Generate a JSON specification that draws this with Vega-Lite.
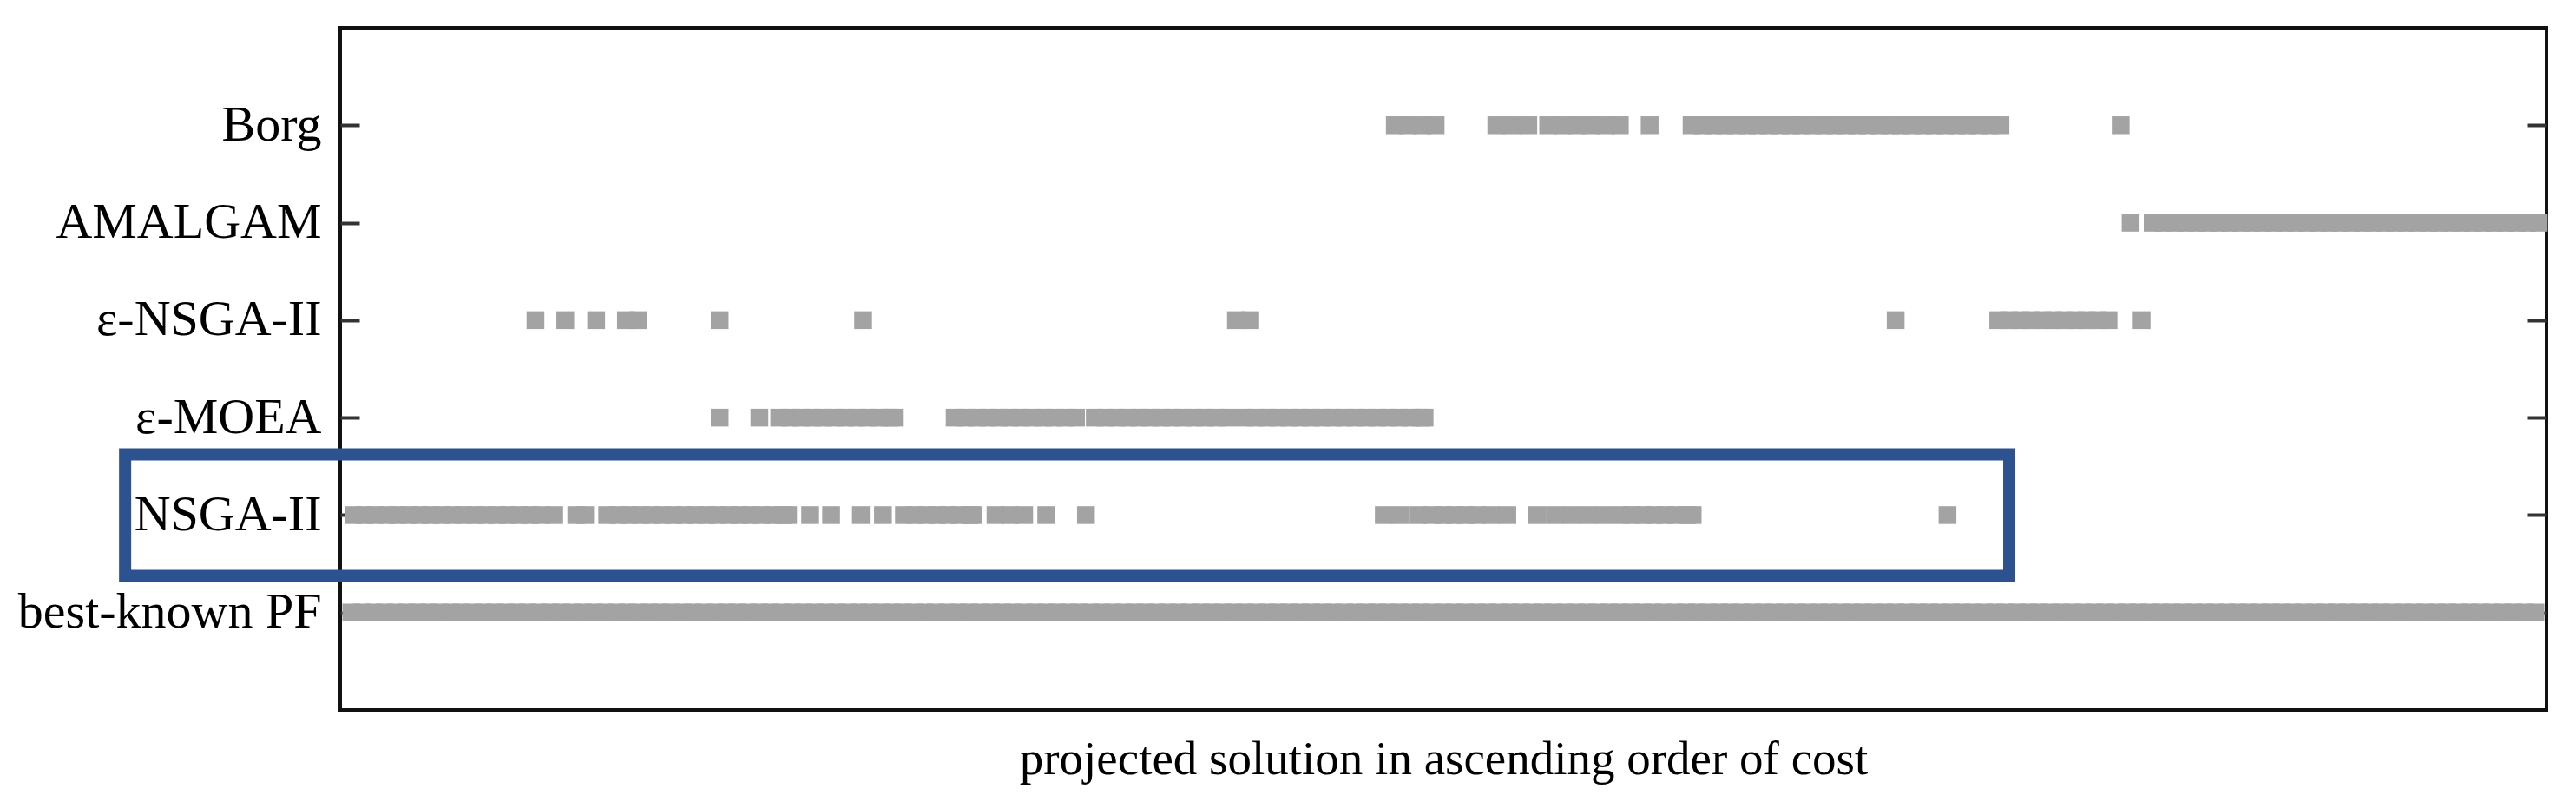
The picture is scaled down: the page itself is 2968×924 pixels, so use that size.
{
  "$schema": "https://vega.github.io/schema/vega-lite/v6.json",
  "width": 2542,
  "height": 786,
  "autosize": {"type": "none"},
  "padding": {"left": 392, "top": 32, "right": 34, "bottom": 106},
  "background": "white",
  "config": {"view": {"stroke": "#111111", "strokeWidth": 4}},
  "datasets": {
    "highlight": [{"alg": "NSGA-II", "from": -19.5, "to": 151.3}],
    "solutions": [
      {"alg":"Borg","pos":95.6},{"alg":"Borg","pos":96.8},{"alg":"Borg","pos":98.1},{"alg":"Borg","pos":99.3},
      {"alg":"Borg","pos":104.8},{"alg":"Borg","pos":106.2},{"alg":"Borg","pos":107.7},
      {"alg":"Borg","pos":109.5},{"alg":"Borg","pos":110.8},{"alg":"Borg","pos":112.1},{"alg":"Borg","pos":113.4},{"alg":"Borg","pos":114.7},{"alg":"Borg","pos":116.0},
      {"alg":"Borg","pos":118.7},
      {"alg":"Borg","pos":122.5},{"alg":"Borg","pos":123.5},{"alg":"Borg","pos":124.5},{"alg":"Borg","pos":125.5},{"alg":"Borg","pos":126.5},{"alg":"Borg","pos":127.5},{"alg":"Borg","pos":128.5},{"alg":"Borg","pos":129.5},{"alg":"Borg","pos":130.5},{"alg":"Borg","pos":131.5},{"alg":"Borg","pos":132.5},{"alg":"Borg","pos":133.5},{"alg":"Borg","pos":134.5},{"alg":"Borg","pos":135.5},{"alg":"Borg","pos":136.5},{"alg":"Borg","pos":137.5},{"alg":"Borg","pos":138.5},{"alg":"Borg","pos":139.5},{"alg":"Borg","pos":140.5},{"alg":"Borg","pos":141.5},{"alg":"Borg","pos":142.5},{"alg":"Borg","pos":143.5},{"alg":"Borg","pos":144.5},{"alg":"Borg","pos":145.5},{"alg":"Borg","pos":146.5},{"alg":"Borg","pos":147.5},{"alg":"Borg","pos":148.5},{"alg":"Borg","pos":149.5},{"alg":"Borg","pos":150.5},
      {"alg":"Borg","pos":161.4},

      {"alg":"AMALGAM","pos":162.3},
      {"alg":"AMALGAM","pos":164.3},{"alg":"AMALGAM","pos":165.3},{"alg":"AMALGAM","pos":166.3},{"alg":"AMALGAM","pos":167.3},{"alg":"AMALGAM","pos":168.3},{"alg":"AMALGAM","pos":169.3},{"alg":"AMALGAM","pos":170.3},{"alg":"AMALGAM","pos":171.3},{"alg":"AMALGAM","pos":172.3},{"alg":"AMALGAM","pos":173.3},{"alg":"AMALGAM","pos":174.3},{"alg":"AMALGAM","pos":175.3},{"alg":"AMALGAM","pos":176.3},{"alg":"AMALGAM","pos":177.3},{"alg":"AMALGAM","pos":178.3},{"alg":"AMALGAM","pos":179.3},{"alg":"AMALGAM","pos":180.3},{"alg":"AMALGAM","pos":181.3},{"alg":"AMALGAM","pos":182.3},{"alg":"AMALGAM","pos":183.3},{"alg":"AMALGAM","pos":184.3},{"alg":"AMALGAM","pos":185.3},{"alg":"AMALGAM","pos":186.3},{"alg":"AMALGAM","pos":187.3},{"alg":"AMALGAM","pos":188.3},{"alg":"AMALGAM","pos":189.3},{"alg":"AMALGAM","pos":190.3},{"alg":"AMALGAM","pos":191.3},{"alg":"AMALGAM","pos":192.3},{"alg":"AMALGAM","pos":193.3},{"alg":"AMALGAM","pos":194.3},{"alg":"AMALGAM","pos":195.3},{"alg":"AMALGAM","pos":196.3},{"alg":"AMALGAM","pos":197.3},{"alg":"AMALGAM","pos":198.3},{"alg":"AMALGAM","pos":199.3},

      {"alg":"ε-NSGA-II","pos":17.7},{"alg":"ε-NSGA-II","pos":20.4},{"alg":"ε-NSGA-II","pos":23.2},{"alg":"ε-NSGA-II","pos":25.9},{"alg":"ε-NSGA-II","pos":27.0},
      {"alg":"ε-NSGA-II","pos":34.4},{"alg":"ε-NSGA-II","pos":47.4},{"alg":"ε-NSGA-II","pos":81.2},{"alg":"ε-NSGA-II","pos":82.5},{"alg":"ε-NSGA-II","pos":141.0},
      {"alg":"ε-NSGA-II","pos":150.3},{"alg":"ε-NSGA-II","pos":151.3},{"alg":"ε-NSGA-II","pos":152.3},{"alg":"ε-NSGA-II","pos":153.3},{"alg":"ε-NSGA-II","pos":154.3},{"alg":"ε-NSGA-II","pos":155.3},{"alg":"ε-NSGA-II","pos":156.3},{"alg":"ε-NSGA-II","pos":157.3},{"alg":"ε-NSGA-II","pos":158.3},{"alg":"ε-NSGA-II","pos":159.3},{"alg":"ε-NSGA-II","pos":160.3},
      {"alg":"ε-NSGA-II","pos":163.3},

      {"alg":"ε-MOEA","pos":34.4},{"alg":"ε-MOEA","pos":38.0},
      {"alg":"ε-MOEA","pos":39.8},{"alg":"ε-MOEA","pos":40.8},{"alg":"ε-MOEA","pos":41.8},{"alg":"ε-MOEA","pos":42.8},{"alg":"ε-MOEA","pos":43.8},{"alg":"ε-MOEA","pos":44.8},{"alg":"ε-MOEA","pos":45.8},{"alg":"ε-MOEA","pos":46.8},{"alg":"ε-MOEA","pos":47.8},{"alg":"ε-MOEA","pos":48.8},{"alg":"ε-MOEA","pos":49.8},{"alg":"ε-MOEA","pos":50.2},
      {"alg":"ε-MOEA","pos":55.7},{"alg":"ε-MOEA","pos":56.7},{"alg":"ε-MOEA","pos":57.7},{"alg":"ε-MOEA","pos":58.7},{"alg":"ε-MOEA","pos":59.7},{"alg":"ε-MOEA","pos":60.7},{"alg":"ε-MOEA","pos":61.7},{"alg":"ε-MOEA","pos":62.7},{"alg":"ε-MOEA","pos":63.7},{"alg":"ε-MOEA","pos":64.7},{"alg":"ε-MOEA","pos":65.7},{"alg":"ε-MOEA","pos":66.7},
      {"alg":"ε-MOEA","pos":68.4},{"alg":"ε-MOEA","pos":69.4},{"alg":"ε-MOEA","pos":70.4},{"alg":"ε-MOEA","pos":71.4},{"alg":"ε-MOEA","pos":72.4},{"alg":"ε-MOEA","pos":73.4},{"alg":"ε-MOEA","pos":74.4},{"alg":"ε-MOEA","pos":75.4},{"alg":"ε-MOEA","pos":76.4},{"alg":"ε-MOEA","pos":77.4},{"alg":"ε-MOEA","pos":78.4},{"alg":"ε-MOEA","pos":79.4},{"alg":"ε-MOEA","pos":80.4},
      {"alg":"ε-MOEA","pos":82.0},{"alg":"ε-MOEA","pos":83.0},{"alg":"ε-MOEA","pos":84.0},{"alg":"ε-MOEA","pos":85.0},{"alg":"ε-MOEA","pos":86.0},{"alg":"ε-MOEA","pos":87.0},{"alg":"ε-MOEA","pos":88.0},{"alg":"ε-MOEA","pos":89.0},{"alg":"ε-MOEA","pos":90.0},{"alg":"ε-MOEA","pos":91.0},{"alg":"ε-MOEA","pos":92.0},{"alg":"ε-MOEA","pos":93.0},{"alg":"ε-MOEA","pos":94.0},{"alg":"ε-MOEA","pos":95.0},{"alg":"ε-MOEA","pos":96.0},{"alg":"ε-MOEA","pos":97.0},{"alg":"ε-MOEA","pos":98.0},{"alg":"ε-MOEA","pos":98.3},

      {"alg":"NSGA-II","pos":1.2},{"alg":"NSGA-II","pos":2.2},{"alg":"NSGA-II","pos":3.2},{"alg":"NSGA-II","pos":4.2},{"alg":"NSGA-II","pos":5.2},{"alg":"NSGA-II","pos":6.2},{"alg":"NSGA-II","pos":7.2},{"alg":"NSGA-II","pos":8.2},{"alg":"NSGA-II","pos":9.2},{"alg":"NSGA-II","pos":10.2},{"alg":"NSGA-II","pos":11.2},{"alg":"NSGA-II","pos":12.2},{"alg":"NSGA-II","pos":13.2},{"alg":"NSGA-II","pos":14.2},{"alg":"NSGA-II","pos":15.2},{"alg":"NSGA-II","pos":16.2},{"alg":"NSGA-II","pos":17.2},{"alg":"NSGA-II","pos":18.2},{"alg":"NSGA-II","pos":19.4},
      {"alg":"NSGA-II","pos":21.4},{"alg":"NSGA-II","pos":22.2},
      {"alg":"NSGA-II","pos":24.2},{"alg":"NSGA-II","pos":25.2},{"alg":"NSGA-II","pos":26.2},{"alg":"NSGA-II","pos":27.2},{"alg":"NSGA-II","pos":28.2},{"alg":"NSGA-II","pos":29.2},{"alg":"NSGA-II","pos":30.2},{"alg":"NSGA-II","pos":31.2},{"alg":"NSGA-II","pos":32.2},{"alg":"NSGA-II","pos":33.2},{"alg":"NSGA-II","pos":34.2},{"alg":"NSGA-II","pos":35.2},{"alg":"NSGA-II","pos":36.2},{"alg":"NSGA-II","pos":37.2},{"alg":"NSGA-II","pos":38.2},{"alg":"NSGA-II","pos":39.2},{"alg":"NSGA-II","pos":40.2},{"alg":"NSGA-II","pos":40.6},
      {"alg":"NSGA-II","pos":42.6},{"alg":"NSGA-II","pos":44.5},{"alg":"NSGA-II","pos":47.2},{"alg":"NSGA-II","pos":49.2},
      {"alg":"NSGA-II","pos":51.1},{"alg":"NSGA-II","pos":52.1},{"alg":"NSGA-II","pos":53.1},{"alg":"NSGA-II","pos":54.1},{"alg":"NSGA-II","pos":55.1},{"alg":"NSGA-II","pos":56.1},{"alg":"NSGA-II","pos":57.1},{"alg":"NSGA-II","pos":57.4},
      {"alg":"NSGA-II","pos":59.4},{"alg":"NSGA-II","pos":60.7},{"alg":"NSGA-II","pos":62.0},{"alg":"NSGA-II","pos":64.0},{"alg":"NSGA-II","pos":67.6},
      {"alg":"NSGA-II","pos":94.6},{"alg":"NSGA-II","pos":96.1},{"alg":"NSGA-II","pos":97.7},{"alg":"NSGA-II","pos":99.0},{"alg":"NSGA-II","pos":100.0},{"alg":"NSGA-II","pos":101.0},{"alg":"NSGA-II","pos":102.0},{"alg":"NSGA-II","pos":103.0},{"alg":"NSGA-II","pos":104.3},{"alg":"NSGA-II","pos":105.8},
      {"alg":"NSGA-II","pos":108.5},{"alg":"NSGA-II","pos":110.1},{"alg":"NSGA-II","pos":111.6},{"alg":"NSGA-II","pos":113.1},{"alg":"NSGA-II","pos":114.6},{"alg":"NSGA-II","pos":116.1},{"alg":"NSGA-II","pos":117.1},{"alg":"NSGA-II","pos":118.1},{"alg":"NSGA-II","pos":119.1},{"alg":"NSGA-II","pos":120.1},{"alg":"NSGA-II","pos":121.1},{"alg":"NSGA-II","pos":122.1},{"alg":"NSGA-II","pos":122.6},
      {"alg":"NSGA-II","pos":145.7},

      {"alg":"best-known PF","pos":1},{"alg":"best-known PF","pos":2},{"alg":"best-known PF","pos":3},{"alg":"best-known PF","pos":4},{"alg":"best-known PF","pos":5},{"alg":"best-known PF","pos":6},{"alg":"best-known PF","pos":7},{"alg":"best-known PF","pos":8},{"alg":"best-known PF","pos":9},{"alg":"best-known PF","pos":10},
      {"alg":"best-known PF","pos":11},{"alg":"best-known PF","pos":12},{"alg":"best-known PF","pos":13},{"alg":"best-known PF","pos":14},{"alg":"best-known PF","pos":15},{"alg":"best-known PF","pos":16},{"alg":"best-known PF","pos":17},{"alg":"best-known PF","pos":18},{"alg":"best-known PF","pos":19},{"alg":"best-known PF","pos":20},
      {"alg":"best-known PF","pos":21},{"alg":"best-known PF","pos":22},{"alg":"best-known PF","pos":23},{"alg":"best-known PF","pos":24},{"alg":"best-known PF","pos":25},{"alg":"best-known PF","pos":26},{"alg":"best-known PF","pos":27},{"alg":"best-known PF","pos":28},{"alg":"best-known PF","pos":29},{"alg":"best-known PF","pos":30},
      {"alg":"best-known PF","pos":31},{"alg":"best-known PF","pos":32},{"alg":"best-known PF","pos":33},{"alg":"best-known PF","pos":34},{"alg":"best-known PF","pos":35},{"alg":"best-known PF","pos":36},{"alg":"best-known PF","pos":37},{"alg":"best-known PF","pos":38},{"alg":"best-known PF","pos":39},{"alg":"best-known PF","pos":40},
      {"alg":"best-known PF","pos":41},{"alg":"best-known PF","pos":42},{"alg":"best-known PF","pos":43},{"alg":"best-known PF","pos":44},{"alg":"best-known PF","pos":45},{"alg":"best-known PF","pos":46},{"alg":"best-known PF","pos":47},{"alg":"best-known PF","pos":48},{"alg":"best-known PF","pos":49},{"alg":"best-known PF","pos":50},
      {"alg":"best-known PF","pos":51},{"alg":"best-known PF","pos":52},{"alg":"best-known PF","pos":53},{"alg":"best-known PF","pos":54},{"alg":"best-known PF","pos":55},{"alg":"best-known PF","pos":56},{"alg":"best-known PF","pos":57},{"alg":"best-known PF","pos":58},{"alg":"best-known PF","pos":59},{"alg":"best-known PF","pos":60},
      {"alg":"best-known PF","pos":61},{"alg":"best-known PF","pos":62},{"alg":"best-known PF","pos":63},{"alg":"best-known PF","pos":64},{"alg":"best-known PF","pos":65},{"alg":"best-known PF","pos":66},{"alg":"best-known PF","pos":67},{"alg":"best-known PF","pos":68},{"alg":"best-known PF","pos":69},{"alg":"best-known PF","pos":70},
      {"alg":"best-known PF","pos":71},{"alg":"best-known PF","pos":72},{"alg":"best-known PF","pos":73},{"alg":"best-known PF","pos":74},{"alg":"best-known PF","pos":75},{"alg":"best-known PF","pos":76},{"alg":"best-known PF","pos":77},{"alg":"best-known PF","pos":78},{"alg":"best-known PF","pos":79},{"alg":"best-known PF","pos":80},
      {"alg":"best-known PF","pos":81},{"alg":"best-known PF","pos":82},{"alg":"best-known PF","pos":83},{"alg":"best-known PF","pos":84},{"alg":"best-known PF","pos":85},{"alg":"best-known PF","pos":86},{"alg":"best-known PF","pos":87},{"alg":"best-known PF","pos":88},{"alg":"best-known PF","pos":89},{"alg":"best-known PF","pos":90},
      {"alg":"best-known PF","pos":91},{"alg":"best-known PF","pos":92},{"alg":"best-known PF","pos":93},{"alg":"best-known PF","pos":94},{"alg":"best-known PF","pos":95},{"alg":"best-known PF","pos":96},{"alg":"best-known PF","pos":97},{"alg":"best-known PF","pos":98},{"alg":"best-known PF","pos":99},{"alg":"best-known PF","pos":100},
      {"alg":"best-known PF","pos":101},{"alg":"best-known PF","pos":102},{"alg":"best-known PF","pos":103},{"alg":"best-known PF","pos":104},{"alg":"best-known PF","pos":105},{"alg":"best-known PF","pos":106},{"alg":"best-known PF","pos":107},{"alg":"best-known PF","pos":108},{"alg":"best-known PF","pos":109},{"alg":"best-known PF","pos":110},
      {"alg":"best-known PF","pos":111},{"alg":"best-known PF","pos":112},{"alg":"best-known PF","pos":113},{"alg":"best-known PF","pos":114},{"alg":"best-known PF","pos":115},{"alg":"best-known PF","pos":116},{"alg":"best-known PF","pos":117},{"alg":"best-known PF","pos":118},{"alg":"best-known PF","pos":119},{"alg":"best-known PF","pos":120},
      {"alg":"best-known PF","pos":121},{"alg":"best-known PF","pos":122},{"alg":"best-known PF","pos":123},{"alg":"best-known PF","pos":124},{"alg":"best-known PF","pos":125},{"alg":"best-known PF","pos":126},{"alg":"best-known PF","pos":127},{"alg":"best-known PF","pos":128},{"alg":"best-known PF","pos":129},{"alg":"best-known PF","pos":130},
      {"alg":"best-known PF","pos":131},{"alg":"best-known PF","pos":132},{"alg":"best-known PF","pos":133},{"alg":"best-known PF","pos":134},{"alg":"best-known PF","pos":135},{"alg":"best-known PF","pos":136},{"alg":"best-known PF","pos":137},{"alg":"best-known PF","pos":138},{"alg":"best-known PF","pos":139},{"alg":"best-known PF","pos":140},
      {"alg":"best-known PF","pos":141},{"alg":"best-known PF","pos":142},{"alg":"best-known PF","pos":143},{"alg":"best-known PF","pos":144},{"alg":"best-known PF","pos":145},{"alg":"best-known PF","pos":146},{"alg":"best-known PF","pos":147},{"alg":"best-known PF","pos":148},{"alg":"best-known PF","pos":149},{"alg":"best-known PF","pos":150},
      {"alg":"best-known PF","pos":151},{"alg":"best-known PF","pos":152},{"alg":"best-known PF","pos":153},{"alg":"best-known PF","pos":154},{"alg":"best-known PF","pos":155},{"alg":"best-known PF","pos":156},{"alg":"best-known PF","pos":157},{"alg":"best-known PF","pos":158},{"alg":"best-known PF","pos":159},{"alg":"best-known PF","pos":160},
      {"alg":"best-known PF","pos":161},{"alg":"best-known PF","pos":162},{"alg":"best-known PF","pos":163},{"alg":"best-known PF","pos":164},{"alg":"best-known PF","pos":165},{"alg":"best-known PF","pos":166},{"alg":"best-known PF","pos":167},{"alg":"best-known PF","pos":168},{"alg":"best-known PF","pos":169},{"alg":"best-known PF","pos":170},
      {"alg":"best-known PF","pos":171},{"alg":"best-known PF","pos":172},{"alg":"best-known PF","pos":173},{"alg":"best-known PF","pos":174},{"alg":"best-known PF","pos":175},{"alg":"best-known PF","pos":176},{"alg":"best-known PF","pos":177},{"alg":"best-known PF","pos":178},{"alg":"best-known PF","pos":179},{"alg":"best-known PF","pos":180},
      {"alg":"best-known PF","pos":181},{"alg":"best-known PF","pos":182},{"alg":"best-known PF","pos":183},{"alg":"best-known PF","pos":184},{"alg":"best-known PF","pos":185},{"alg":"best-known PF","pos":186},{"alg":"best-known PF","pos":187},{"alg":"best-known PF","pos":188},{"alg":"best-known PF","pos":189},{"alg":"best-known PF","pos":190},
      {"alg":"best-known PF","pos":191},{"alg":"best-known PF","pos":192},{"alg":"best-known PF","pos":193},{"alg":"best-known PF","pos":194},{"alg":"best-known PF","pos":195},{"alg":"best-known PF","pos":196},{"alg":"best-known PF","pos":197},{"alg":"best-known PF","pos":198},{"alg":"best-known PF","pos":199}
    ]
  },
  "resolve": {"axis": {"y": "independent"}},
  "layer": [
    {
      "data": {"name": "solutions"},
      "mark": {"type": "point", "shape": "square", "filled": true, "size": 420, "color": "#A3A3A3", "opacity": 1, "strokeWidth": 0},
      "encoding": {
        "x": {
          "field": "pos", "type": "quantitative",
          "scale": {"domain": [0, 200], "nice": false, "zero": false},
          "axis": {"title": "projected solution in ascending order of cost", "labels": false, "ticks": false, "domain": false, "grid": false,
                   "titleFont": "Liberation Serif", "titleFontSize": 55, "titleFontWeight": "normal", "titleColor": "black", "titlePadding": 30}
        },
        "y": {
          "field": "alg", "type": "nominal",
          "scale": {"type": "point", "padding": 1, "domain": ["Borg", "AMALGAM", "ε-NSGA-II", "ε-MOEA", "NSGA-II", "best-known PF"]},
          "axis": {"title": null, "orient": "left", "domain": false, "grid": false, "labelFont": "Liberation Serif", "labelFontSize": 58,
                   "labelColor": "black", "labelLimit": 0, "tickSize": -22, "tickWidth": 4, "tickColor": "#333333", "labelPadding": 44}
        }
      }
    },
    {
      "data": {"name": "highlight"},
      "mark": {"type": "bar", "filled": false, "stroke": "#2C5290", "strokeWidth": 14, "height": 140},
      "encoding": {
        "x": {"field": "from", "type": "quantitative"},
        "x2": {"field": "to"},
        "y": {
          "field": "alg", "type": "nominal",
          "axis": {"title": null, "orient": "right", "domain": false, "grid": false, "labels": false,
                   "tickSize": -22, "tickWidth": 4, "tickColor": "#333333"}
        }
      }
    }
  ]
}
